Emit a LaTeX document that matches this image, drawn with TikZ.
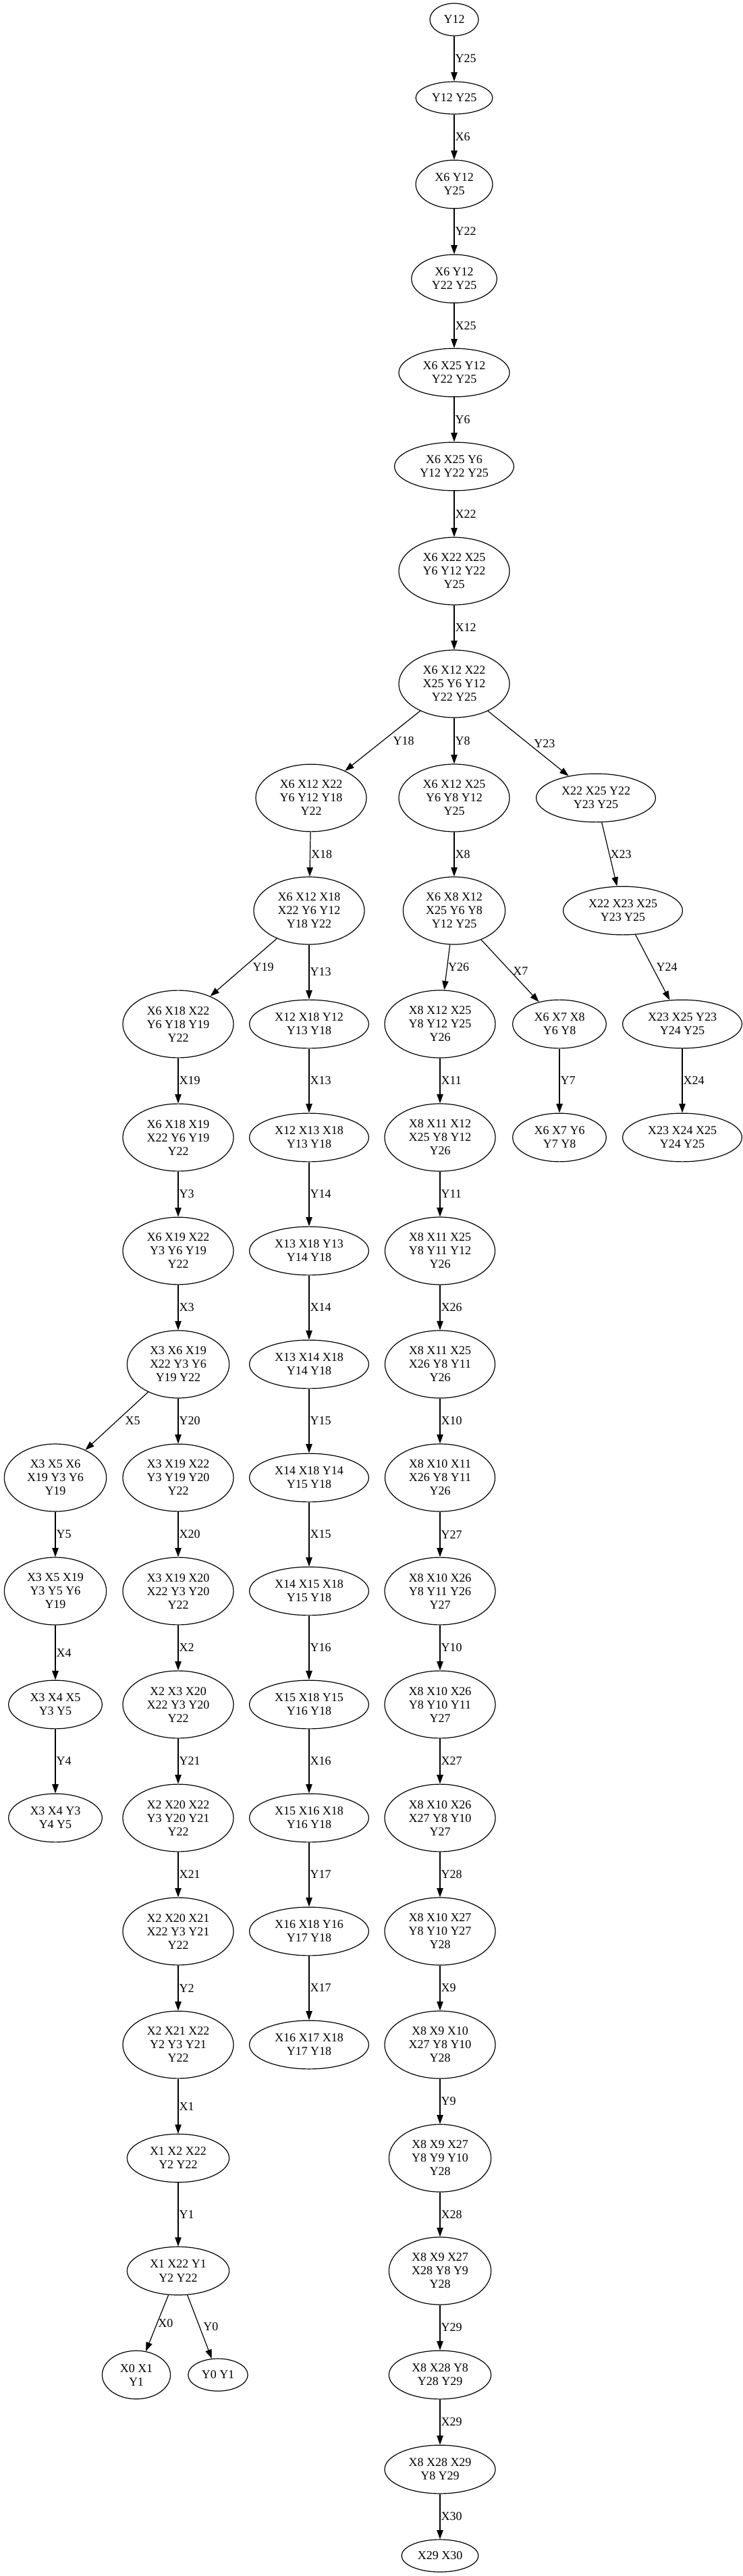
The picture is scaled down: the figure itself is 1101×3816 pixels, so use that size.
\documentclass[tikz,border=0pt]{standalone}
\usepackage{fontspec}
\setmainfont{Liberation Serif}
\usetikzlibrary{shapes.geometric, arrows.meta}

\begin{document}
\begin{tikzpicture}[
  x=0.5pt, y=0.5pt,
  st/.style={draw, ellipse, line width=0.6pt, align=center,
    font=\fontsize{9}{10}\selectfont, inner xsep=5.75pt, inner ysep=4.65pt,
    minimum width=36pt, minimum height=24pt},
  one/.style={st, inner xsep=3.5pt},
  edge/.style={line width=0.6pt, -{Triangle[length=6.7pt, width=4.7pt]}},
  lbl/.style={font=\fontsize{9}{10}\selectfont, anchor=west, inner sep=0.5pt},
]
  \useasboundingbox (0,0) rectangle (1101,-3816);
  % #1 label shift, #2 from, #3 to, #4 label
  \newcommand{\conn}[4][0pt]{%
    \draw[edge] (#2) -- node[lbl, xshift=#1] {#4} (#3);}

  % trunk
  \node[one] (n1) at (673,-29)  {Y12};
  \node[one] (n2) at (673,-145) {Y12 Y25};
  \node[st]  (n3) at (673,-273) {X6 Y12\\Y25};
  \node[st]  (n4) at (673,-413) {X6 Y12\\Y22 Y25};
  \node[st]  (n5) at (673,-552) {X6 X25 Y12\\Y22 Y25};
  \node[st]  (n6) at (673,-691) {X6 X25 Y6\\Y12 Y22 Y25};
  \node[st]  (n7) at (673,-846) {X6 X22 X25\\Y6 Y12 Y22\\Y25};
  \node[st]  (n8) at (673,-1013) {X6 X12 X22\\X25 Y6 Y12\\Y22 Y25};
  \conn{n1}{n2}{Y25}
  \conn{n2}{n3}{X6}
  \conn{n3}{n4}{Y22}
  \conn{n4}{n5}{X25}
  \conn{n5}{n6}{Y6}
  \conn{n6}{n7}{X22}
  \conn{n7}{n8}{X12}

  % first split
  \node[st] (a1) at (461,-1182) {X6 X12 X22\\Y6 Y12 Y18\\Y22};
  \node[st] (b1) at (673,-1182) {X6 X12 X25\\Y6 Y8 Y12\\Y25};
  \node[st] (c1) at (883,-1182) {X22 X25 Y22\\Y23 Y25};
  \conn[7pt]{n8}{a1}{Y18}
  \conn{n8}{b1}{Y8}
  \conn[3.5pt]{n8}{c1}{Y23}

  \node[st] (a2) at (458,-1349) {X6 X12 X18\\X22 Y6 Y12\\Y18 Y22};
  \node[st] (b2) at (673,-1349) {X6 X8 X12\\X25 Y6 Y8\\Y12 Y25};
  \node[st] (c2) at (923,-1349) {X22 X23 X25\\Y23 Y25};
  \conn{a1}{a2}{X18}
  \conn{b1}{b2}{X8}
  \conn{c1}{c2}{X23}

  % second split
  \node[st] (d1) at (264,-1517) {X6 X18 X22\\Y6 Y18 Y19\\Y22};
  \node[st] (e1) at (458,-1517) {X12 X18 Y12\\Y13 Y18};
  \node[st] (b3) at (652,-1517) {X8 X12 X25\\Y8 Y12 Y25\\Y26};
  \node[st] (f1) at (829,-1517) {X6 X7 X8\\Y6 Y8};
  \node[st] (c3) at (1011,-1517) {X23 X25 Y23\\Y24 Y25};
  \conn[6pt]{a2}{d1}{Y19}
  \conn{a2}{e1}{Y13}
  \conn{b2}{b3}{Y26}
  \conn[1.5pt]{b2}{f1}{X7}
  \conn[2pt]{c2}{c3}{Y24}

  \node[st] (d2) at (264,-1685) {X6 X18 X19\\X22 Y6 Y19\\Y22};
  \node[st] (e2) at (458,-1685) {X12 X13 X18\\Y13 Y18};
  \node[st] (b4) at (652,-1685) {X8 X11 X12\\X25 Y8 Y12\\Y26};
  \node[st] (f2) at (829,-1685) {X6 X7 Y6\\Y7 Y8};
  \node[st] (c4) at (1011,-1685) {X23 X24 X25\\Y24 Y25};
  \conn{d1}{d2}{X19}
  \conn{e1}{e2}{X13}
  \conn{b3}{b4}{X11}
  \conn{f1}{f2}{Y7}
  \conn{c3}{c4}{X24}

  \node[st] (d3) at (264,-1853) {X6 X19 X22\\Y3 Y6 Y19\\Y22};
  \node[st] (e3) at (458,-1853) {X13 X18 Y13\\Y14 Y18};
  \node[st] (b5) at (652,-1853) {X8 X11 X25\\Y8 Y11 Y12\\Y26};
  \conn{d2}{d3}{Y3}
  \conn{e2}{e3}{Y14}
  \conn{b4}{b5}{Y11}

  \node[st] (d4) at (264,-2021) {X3 X6 X19\\X22 Y3 Y6\\Y19 Y22};
  \node[st] (e4) at (458,-2021) {X13 X14 X18\\Y14 Y18};
  \node[st] (b6) at (652,-2021) {X8 X11 X25\\X26 Y8 Y11\\Y26};
  \conn{d3}{d4}{X3}
  \conn{e3}{e4}{X14}
  \conn{b5}{b6}{X26}

  % third split
  \node[st] (g1) at (82,-2189)  {X3 X5 X6\\X19 Y3 Y6\\Y19};
  \node[st] (d5) at (264,-2189) {X3 X19 X22\\Y3 Y19 Y20\\Y22};
  \node[st] (e5) at (458,-2189) {X14 X18 Y14\\Y15 Y18};
  \node[st] (b7) at (652,-2189) {X8 X10 X11\\X26 Y8 Y11\\Y26};
  \conn[5.5pt]{d4}{g1}{X5}
  \conn{d4}{d5}{Y20}
  \conn{e4}{e5}{Y15}
  \conn{b6}{b7}{X10}

  \node[st] (g2) at (82,-2357)  {X3 X5 X19\\Y3 Y5 Y6\\Y19};
  \node[st] (d6) at (264,-2357) {X3 X19 X20\\X22 Y3 Y20\\Y22};
  \node[st] (e6) at (458,-2357) {X14 X15 X18\\Y15 Y18};
  \node[st] (b8) at (652,-2357) {X8 X10 X26\\Y8 Y11 Y26\\Y27};
  \conn{g1}{g2}{Y5}
  \conn{d5}{d6}{X20}
  \conn{e5}{e6}{X15}
  \conn{b7}{b8}{Y27}

  \node[st] (g3) at (82,-2525)  {X3 X4 X5\\Y3 Y5};
  \node[st] (d7) at (264,-2525) {X2 X3 X20\\X22 Y3 Y20\\Y22};
  \node[st] (e7) at (458,-2525) {X15 X18 Y15\\Y16 Y18};
  \node[st] (b9) at (652,-2525) {X8 X10 X26\\Y8 Y10 Y11\\Y27};
  \conn{g2}{g3}{X4}
  \conn{d6}{d7}{X2}
  \conn{e6}{e7}{Y16}
  \conn{b8}{b9}{Y10}

  \node[st] (g4)  at (82,-2693)  {X3 X4 Y3\\Y4 Y5};
  \node[st] (d8)  at (264,-2693) {X2 X20 X22\\Y3 Y20 Y21\\Y22};
  \node[st] (e8)  at (458,-2693) {X15 X16 X18\\Y16 Y18};
  \node[st] (b10) at (652,-2693) {X8 X10 X26\\X27 Y8 Y10\\Y27};
  \conn{g3}{g4}{Y4}
  \conn{d7}{d8}{Y21}
  \conn{e7}{e8}{X16}
  \conn{b9}{b10}{X27}

  \node[st] (d9)  at (264,-2861) {X2 X20 X21\\X22 Y3 Y21\\Y22};
  \node[st] (e9)  at (458,-2861) {X16 X18 Y16\\Y17 Y18};
  \node[st] (b11) at (652,-2861) {X8 X10 X27\\Y8 Y10 Y27\\Y28};
  \conn{d8}{d9}{X21}
  \conn{e8}{e9}{Y17}
  \conn{b10}{b11}{Y28}

  \node[st] (d10) at (264,-3029) {X2 X21 X22\\Y2 Y3 Y21\\Y22};
  \node[st] (e10) at (458,-3029) {X16 X17 X18\\Y17 Y18};
  \node[st] (b12) at (652,-3029) {X8 X9 X10\\X27 Y8 Y10\\Y28};
  \conn{d9}{d10}{Y2}
  \conn{e9}{e10}{X17}
  \conn{b11}{b12}{X9}

  \node[st] (d11) at (264,-3197) {X1 X2 X22\\Y2 Y22};
  \node[st] (b13) at (652,-3197) {X8 X9 X27\\Y8 Y9 Y10\\Y28};
  \conn{d10}{d11}{X1}
  \conn{b12}{b13}{Y9}

  \node[st] (d12) at (264,-3364) {X1 X22 Y1\\Y2 Y22};
  \node[st] (b14) at (652,-3364) {X8 X9 X27\\X28 Y8 Y9\\Y28};
  \conn{d11}{d12}{Y1}
  \conn{b13}{b14}{X28}

  % leaves
  \node[st]  (h1)  at (202,-3518) {X0 X1\\Y1};
  \node[one] (h2)  at (323,-3518) {Y0 Y1};
  \node[st]  (b15) at (652,-3518) {X8 X28 Y8\\Y28 Y29};
  \conn{d12}{h1}{X0}
  \conn[2pt]{d12}{h2}{Y0}
  \conn{b14}{b15}{Y29}

  \node[st]  (b16) at (652,-3658) {X8 X28 X29\\Y8 Y29};
  \node[one] (b17) at (652,-3786) {X29 X30};
  \conn{b15}{b16}{X29}
  \conn{b16}{b17}{X30}
\end{tikzpicture}
\end{document}
